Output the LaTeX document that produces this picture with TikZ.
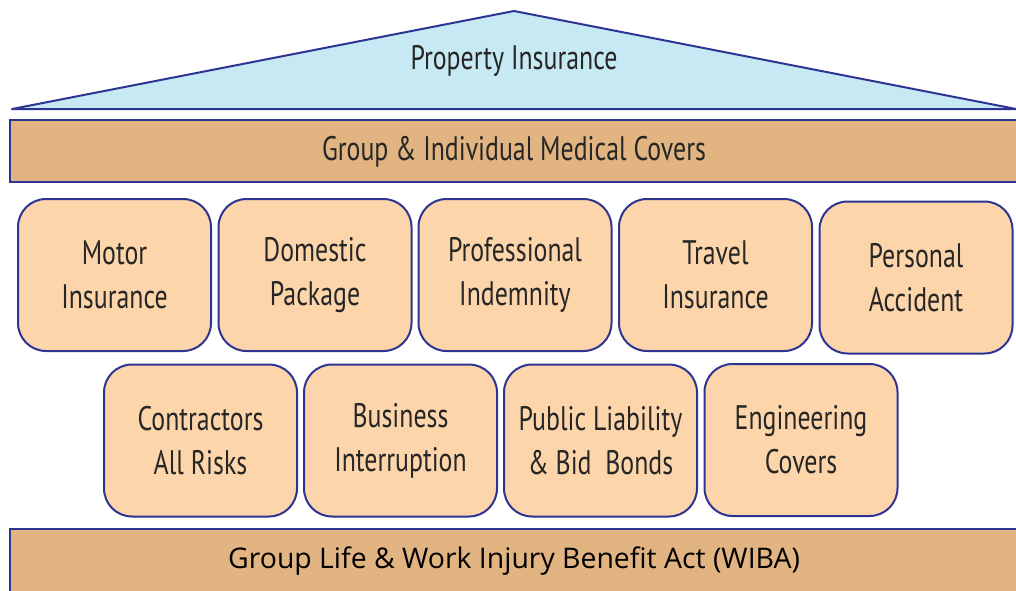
\documentclass[tikz,border=0pt]{standalone}
\usepackage{fontspec}
\setmainfont{Open Sans}
\newfontfamily\narrowfont[FakeStretch=0.76]{PT Sans}
\usepackage{tikz}

\definecolor{edgeblue}{RGB}{46,52,146}
\definecolor{roofblue}{RGB}{199,233,243}
\definecolor{barbrown}{RGB}{226,180,130}
\definecolor{boxpeach}{RGB}{252,213,170}

\tikzset{
  cover/.style={draw=edgeblue, line width=2pt, fill=boxpeach, rounded corners=28pt,
    minimum width=193pt, minimum height=152pt, inner sep=0pt, align=center,
    font=\narrowfont\fontsize{34}{44}\selectfont, text=black!85},
  bar/.style={draw=edgeblue, line width=2pt, fill=barbrown}
}

\begin{document}
\begin{tikzpicture}[x=1pt,y=-1pt]
\useasboundingbox (0,0) rectangle (1016,590);
\clip (0,0) rectangle (1016,590);
% roof
\coordinate (roofl) at (12,109);
\coordinate (roofr) at (1016,109);
\coordinate (roofa) at (514,11);
\draw[draw=edgeblue, line width=2pt, fill=roofblue, line join=round] (roofl)--(roofa)--(roofr)--cycle;
\node[font=\narrowfont\fontsize{34}{44}\selectfont, text=black!85] (roof) at (514,61) {Property Insurance};
% medical bar
\draw[bar] (10,120) rectangle (1030,182);
\node[font=\narrowfont\fontsize{34}{44}\selectfont, text=black!85] (medical) at (514,152) {Group \& Individual Medical Covers};
% top row
\node[cover] (motor) at (114.5,275) {Motor\\Insurance};
\node[cover] (domestic) at (315,275) {Domestic\\Package};
\node[cover] (professional) at (515,275) {Professional\\Indemnity};
\node[cover] (travel) at (715.5,275) {Travel\\Insurance};
\node[cover] (personal) at (916,277.5) {Personal\\Accident};
% bottom row
\node[cover] (contractors) at (200.5,440.5) {Contractors\\All Risks};
\node[cover] (business) at (400.5,440.5) {Business\\Interruption};
\node[cover] (public) at (600.5,440.5) {Public Liability\\\& Bid\ \ Bonds};
\node[cover] (engineering) at (801,440) {Engineering\\Covers};
% base bar
\draw[bar] (10,529) rectangle (1030,600);
\node[font=\fontsize{28.4}{34}\selectfont, text=black] (wiba) at (514,561) {Group Life \& Work Injury Benefit Act (WIBA)};
\end{tikzpicture}
\end{document}
